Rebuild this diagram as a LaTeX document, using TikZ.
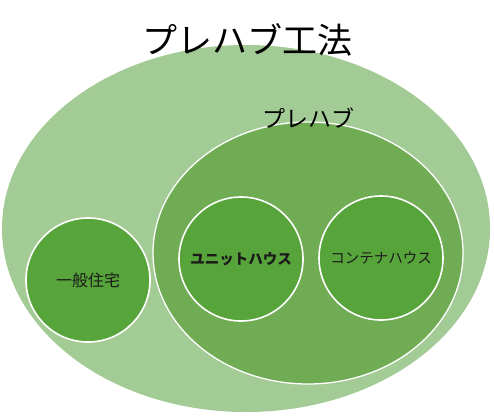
\documentclass[tikz,border=0pt]{standalone}
\usepackage{fontspec}
\newfontfamily\jfont{Noto Sans CJK JP}
\usetikzlibrary{positioning}
\definecolor{outergreen}{HTML}{A3CB95}
\definecolor{innergreen}{HTML}{70AC54}
\definecolor{circgreen}{HTML}{57A43B}
\definecolor{labeltext}{HTML}{1A1A1A}

\begin{document}
\begin{tikzpicture}[x=1pt, y=-1pt,
    kind/.style={circle, fill=circgreen, draw=white, line width=1.6pt,
        minimum size=124pt, inner sep=0pt, text=labeltext, font=\jfont\fontsize{14.5}{16}\selectfont},
    title/.style={font=\jfont\fontsize{#1}{#1}\selectfont, text=black, inner sep=0pt}]

    \useasboundingbox (0,0) rectangle (494,415);

    % the two sets
    \fill[outergreen] (246,228.5) ellipse [x radius=244, y radius=183.5];
    \draw[fill=innergreen, draw=white, line width=1.3pt] (308,253) ellipse [x radius=155, y radius=131];

    \node[title=35] (method) at (247,40) {プレハブ工法};
    \node[title=23] (prefab) at (308,118) {プレハブ};

    % the kinds
    \node[kind, font=\jfont\fontsize{16}{18}\selectfont] (house) at (88,280) {一般住宅};
    \node[kind, font=\jfont\bfseries\fontsize{14.5}{16}\selectfont] (unit) at (241,259) {ユニットハウス};
    \node[kind] (container) at (381,258) {コンテナハウス};

\end{tikzpicture}
\end{document}
